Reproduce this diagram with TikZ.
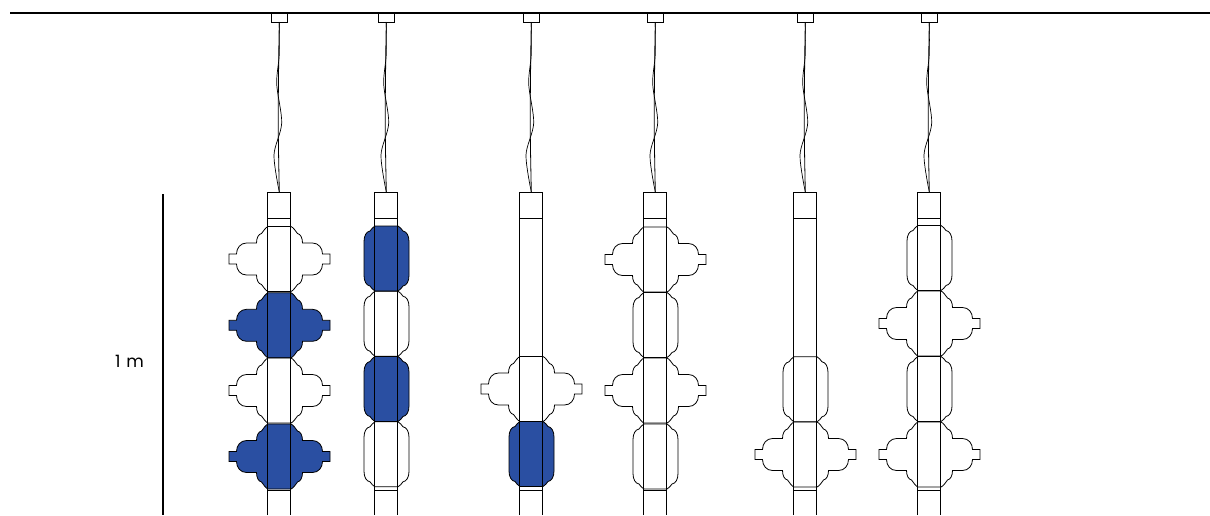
\documentclass[tikz,border=0pt]{standalone}
\usepackage{fontspec}
\setmainfont{Poppins}
\definecolor{modblue}{HTML}{2A4FA2}
\tikzset{
  thin line/.style={line width=0.8pt, draw=black},
  crossmod/.pic={
    \path [thin line, pic actions, xshift=0.5pt] (-11.5,-32.5) -- (11.5,-32.5)
      .. controls (14,-31.5) and (16,-28) .. (18,-25.5) .. controls (21,-25) and (23,-21) .. (23,-16)
      -- (33,-16) .. controls (39,-16) and (43,-11) .. (43,-5) -- (50.5,-5) -- (50.5,5) -- (43,5)
      .. controls (43,11) and (39,16) .. (33,16) -- (23,16)
      .. controls (23,21) and (21,25) .. (18,25.5) .. controls (16,28) and (14,31.5) .. (11.5,32.5)
      -- (-11.5,32.5)
      .. controls (-14,31.5) and (-16,28) .. (-18,25.5) .. controls (-21,25) and (-23,21) .. (-23,16)
      -- (-33,16) .. controls (-39,16) and (-43,11) .. (-43,5) -- (-50.5,5) -- (-50.5,-5) -- (-43,-5)
      .. controls (-43,-11) and (-39,-16) .. (-33,-16) -- (-23,-16)
      .. controls (-23,-21) and (-21,-25) .. (-18,-25.5) .. controls (-16,-28) and (-14,-31.5) .. (-11.5,-32.5)
      -- cycle;
  },
  octmod/.pic={
    \path [thin line, pic actions, xshift=0.5pt] (-11.5,-32.5) -- (11.5,-32.5)
      .. controls (13.5,-32) and (15,-29) .. (16.5,-27.5) .. controls (20,-27) and (22.5,-23) .. (22.5,-17)
      -- (22.5,17)
      .. controls (22.5,23) and (20,27) .. (16.5,27.5) .. controls (15,29) and (13.5,32) .. (11.5,32.5)
      -- (-11.5,32.5)
      .. controls (-13.5,32) and (-15,29) .. (-16.5,27.5) .. controls (-20,27) and (-22.5,23) .. (-22.5,17)
      -- (-22.5,-17)
      .. controls (-22.5,-23) and (-20,-27) .. (-16.5,-27.5) .. controls (-15,-29) and (-13.5,-32) .. (-11.5,-32.5)
      -- cycle;
  },
  lamp/.pic={
    \draw [thin line] (-8,13) rectangle (8,22);
    \draw [thin line] plot [smooth] coordinates {(0.3,22) (-0.3,60) (-0.8,125) (0.3,192)};
    \draw [thin line, line width=0.7pt] plot [smooth] coordinates {(0.3,22) (0.2,55) (-2.3,84) (2.7,123) (-5,155) (0.3,192)};
    \draw [thin line] (-11.5,515) -- (-11.5,192) -- (11.5,192) -- (11.5,515);
    \draw [thin line] (-11.5,218) -- (11.5,218);
    \draw [thin line] (-11.5,490) -- (11.5,490);
  }
}
\begin{document}
\begin{tikzpicture}[x=1pt,y=-1pt]
\useasboundingbox (0,0) rectangle (1210,515);

% first lamp
\pic at (279,259) {crossmod};
\pic [fill=modblue] at (279,325.3) {crossmod};
\pic at (279,390.5) {crossmod};
\pic [fill=modblue] at (279,456.5) {crossmod};

% second lamp
\pic [fill=modblue] at (386,258.5) {octmod};
\pic at (386,323.7) {octmod};
\pic [fill=modblue] at (386,389) {octmod};
\pic at (386,454.3) {octmod};

% third lamp
\pic at (531,389) {crossmod};
\pic [fill=modblue] at (531,454) {octmod};

% fourth lamp
\pic at (655,259.5) {crossmod};
\pic at (655,325) {octmod};
\pic at (655,390.5) {crossmod};
\pic at (655,456.5) {octmod};

% fifth lamp
\pic at (805,389.3) {octmod};
\pic at (805,454.5) {crossmod};

% sixth lamp
\pic at (929,258) {octmod};
\pic at (929,323.5) {crossmod};
\pic at (929,389) {octmod};
\pic at (929,454.5) {crossmod};

\foreach \x in {279, 386, 531, 655, 805, 929} \pic at (\x,0) {lamp};

\draw [line width=1.5pt] (10,13) -- (1210,13);
\draw [line width=1.2pt] (163,194) -- (163,515);
\node (scalelabel) [font=\fontsize{17}{20}\selectfont] at (129.5,361) {1\,\,m};

\end{tikzpicture}
\end{document}
